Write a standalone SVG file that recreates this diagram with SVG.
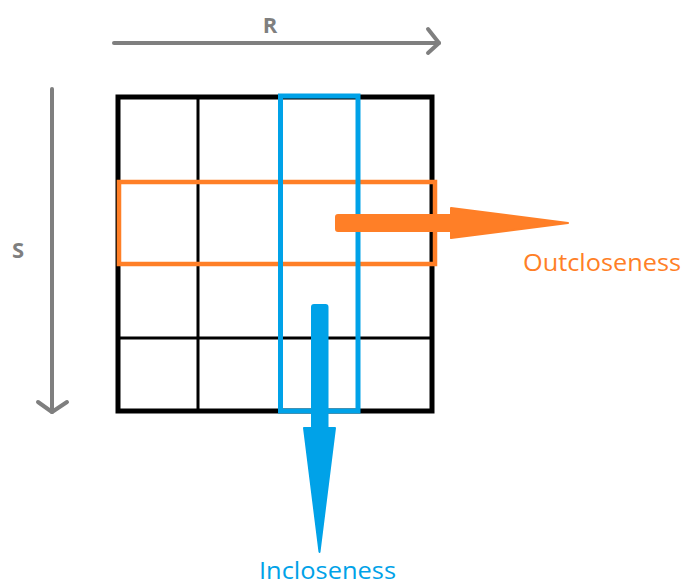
<svg xmlns="http://www.w3.org/2000/svg" width="686" height="585" viewBox="0 0 686 585">
<style>
.axis{stroke:#7f7f7f;stroke-width:4;fill:none;stroke-linecap:round;stroke-linejoin:round}
.axlbl{font-family:"Open Sans",sans-serif;font-weight:bold;font-size:22px;fill:#7f7f7f;text-anchor:middle}
.grid{stroke:#000;fill:none}
.lbl{font-family:"Open Sans",sans-serif;font-size:24px}
</style>
<rect width="686" height="585" fill="#fff"/>
<g id="axis-R">
<line class="axis" x1="114" y1="43" x2="439" y2="43"/>
<polyline class="axis" points="428,29 439,43 428,53"/>
<text class="axlbl" x="270" y="33">R</text>
</g>
<g id="axis-S">
<line class="axis" x1="52" y1="89" x2="52" y2="412"/>
<polyline class="axis" points="38,402 52,412 67,402"/>
<text class="axlbl" x="18" y="258">S</text>
</g>
<g id="grid">
<line class="grid" stroke-width="3" x1="198" y1="97" x2="198" y2="411"/>
<line class="grid" stroke-width="3" x1="280" y1="97" x2="280" y2="411"/>
<line class="grid" stroke-width="3" x1="358" y1="97" x2="358" y2="411"/>
<line class="grid" stroke-width="3" x1="118" y1="182" x2="432" y2="182"/>
<line class="grid" stroke-width="3" x1="118" y1="264" x2="432" y2="264"/>
<line class="grid" stroke-width="3" x1="118" y1="338" x2="432" y2="338"/>
<rect class="grid" stroke-width="5" x="118" y="97" width="314" height="314"/>
</g>
<g id="row-highlight">
<rect x="119" y="182" width="316" height="82" fill="none" stroke="#ff7f27" stroke-width="4.5"/>
</g>
<g id="column-highlight">
<rect x="280.5" y="96" width="77.5" height="315" fill="none" stroke="#00a2e8" stroke-width="5"/>
</g>
<g id="connectors">
<g id="outcloseness-arrow" fill="#ff7f27" stroke="#ff7f27" stroke-linejoin="round" stroke-width="2">
<rect x="336" y="215" width="116" height="16" rx="2"/>
<polygon points="451,208 568,223 451,238"/>
</g>
<g id="incloseness-arrow" fill="#00a2e8" stroke="#00a2e8" stroke-linejoin="round" stroke-width="2">
<rect x="312" y="305" width="15.5" height="124" rx="2"/>
<polygon points="304,428 335,428 319.5,552"/>
</g>
</g>
<g id="label-out">
<text class="lbl" x="523" y="271" fill="#ff7f27" textLength="158" lengthAdjust="spacingAndGlyphs">Outcloseness</text>
</g>
<g id="label-in">
<text class="lbl" x="259" y="579" fill="#00a2e8" textLength="137" lengthAdjust="spacingAndGlyphs">Incloseness</text>
</g>
</svg>
